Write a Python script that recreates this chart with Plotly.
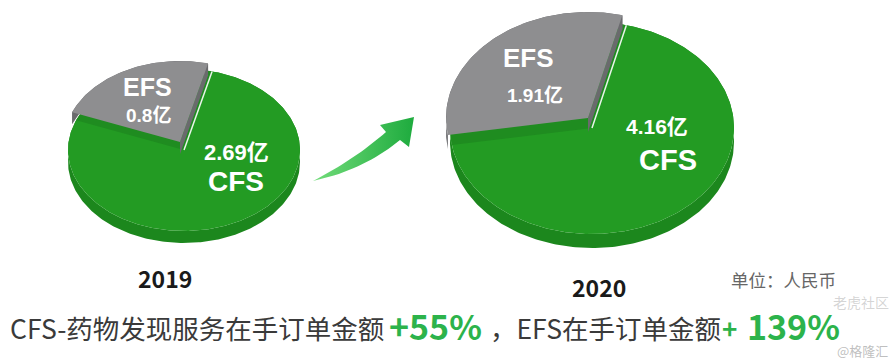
import numpy as np
import plotly.graph_objects as go

# ---------------- data ----------------
years = ["2019", "2020"]
segments = ["EFS", "CFS"]
efs_values = [0.8, 1.91]      # 亿元
cfs_values = [2.69, 4.16]     # 亿元
cfs_growth = "+55%"
efs_growth = "139%"
unit_label = "单位：人民币"
cfs_caption = "CFS-药物发现服务在手订单金额"
efs_caption = "，EFS在手订单金额"

# ---------------- geometry / style ----------------
pies = [
    dict(cx=184, cy=150, rx=116, ry=81, depth=12, ex=(-4, -8), year_xy=(165, 278),
         efs_lab=[(147, 87, 25), (148, 115, 19)], cfs_lab=[(236, 152, 22), (236, 181, 28)]),
    dict(cx=592, cy=128, rx=142, ry=106, depth=14, ex=(-4, -10), year_xy=(599, 287),
         efs_lab=[(528, 58, 26), (535, 95, 19)], cfs_lab=[(657, 126, 21), (668, 160, 29)]),
]
START = 76.0
GREEN_TOP = "#239b23"
GREEN_EDGE = "#1f8c20"
GREEN_SIDE = "#1c871d"
GRAY_TOP = "#8e8e90"
GRAY_SIDE = "#6a6a6d"

fig = go.Figure()


def arc(cx, cy, rx, ry, a0, a1, dx=0, dy=0):
    n = max(int(abs(a1 - a0)) + 2, 3)
    a = np.radians(np.linspace(a0, a1, n))
    return list(cx + dx + rx * np.cos(a)), list(cy + dy - ry * np.sin(a))


def poly(xs, ys, color):
    fig.add_trace(go.Scatter(
        x=xs, y=ys, mode="lines", fill="toself", fillcolor=color,
        line=dict(width=0, color=color), hoverinfo="skip", showlegend=False))


def slice3d(p, a0, a1, top, side, off, faces=()):
    cx, cy, rx, ry, d = p["cx"], p["cy"], p["rx"], p["ry"], p["depth"]
    dx, dy = off
    tx, ty = arc(cx, cy, rx, ry, a0, a1, dx, dy)
    bx, by = arc(cx, cy, rx, ry, a0, a1, dx, dy + d)
    poly(tx + bx[::-1] + [tx[0]], ty + by[::-1] + [ty[0]], side)
    for a in faces:
        ex = cx + dx + rx * np.cos(np.radians(a))
        ey = cy + dy - ry * np.sin(np.radians(a))
        poly([cx + dx, ex, ex, cx + dx, cx + dx],
             [cy + dy, ey, ey + d, cy + dy + d, cy + dy], side)
    poly([cx + dx] + tx + [cx + dx], [cy + dy] + ty + [cy + dy], top)


for i, p in enumerate(pies):
    total = efs_values[i] + cfs_values[i]
    a_efs_end = START + 360.0 * efs_values[i] / total
    # CFS (green) body: the green disc carries the lifted EFS slice
    slice3d(p, 0.0, 360.0, GREEN_TOP, GREEN_SIDE, (0, 0))
    # slightly darker green band under the lifted slice
    cx, cy, rx, ry = p["cx"], p["cy"], p["rx"], p["ry"]
    bx1, by1 = arc(cx, cy, rx, ry, START, a_efs_end)
    poly([cx] + bx1 + [cx], [cy] + by1 + [cy], GREEN_EDGE)
    # white separator on the green edge
    ex = cx + rx * np.cos(np.radians(START))
    ey = cy - ry * np.sin(np.radians(START))
    fig.add_trace(go.Scatter(x=[cx, ex], y=[cy, ey], mode="lines",
                             line=dict(color="rgba(255,255,255,0.9)", width=1.5),
                             hoverinfo="skip", showlegend=False))
    # EFS (gray), lifted/exploded
    slice3d(p, START, a_efs_end, GRAY_TOP, GRAY_SIDE, p["ex"], faces=(START,))

# ---------------- arrow (decoration) ----------------
def bez(p0, c, p2, n=20):
    t = np.linspace(0, 1, n)
    x = (1 - t) ** 2 * p0[0] + 2 * (1 - t) * t * c[0] + t ** 2 * p2[0]
    y = (1 - t) ** 2 * p0[1] + 2 * (1 - t) * t * c[1] + t ** 2 * p2[1]
    return list(x), list(y)

lx, ly = bez((313, 181), (364, 170), (400, 140))
ux, uy = bez((386, 132), (354, 160), (313, 181))
ax = lx + [409, 414, 380] + ux
ay = ly + [147, 117, 125] + uy
fig.add_trace(go.Scatter(
    x=ax, y=ay, mode="lines", fill="toself",
    fillgradient=dict(type="horizontal", colorscale=[[0, "#72dc7a"], [1, "#1eab3e"]]),
    line=dict(width=0, color="#2dbb4a"), hoverinfo="skip", showlegend=False))

# ---------------- texts ----------------
LAB_FONT = "Liberation Sans, Arial, Noto Sans CJK SC"
CJK = "Noto Sans CJK SC, Microsoft YaHei, sans-serif"
ann = []
for i, p in enumerate(pies):
    (x1, y1, s1), (x2, y2, s2) = p["efs_lab"]
    ann.append(dict(x=x1, y=y1, text=f"<b>{segments[0]}</b>", font=dict(size=s1, color="white", family=LAB_FONT)))
    ann.append(dict(x=x2, y=y2, text=f"<b>{efs_values[i]}亿</b>", font=dict(size=s2, color="white", family=LAB_FONT)))
    (x1, y1, s1), (x2, y2, s2) = p["cfs_lab"]
    ann.append(dict(x=x1, y=y1, text=f"<b>{cfs_values[i]}亿</b>", font=dict(size=s1, color="white", family=LAB_FONT)))
    ann.append(dict(x=x2, y=y2, text=f"<b>{segments[1]}</b>", font=dict(size=s2, color="white", family=LAB_FONT)))
    yx, yy = p["year_xy"]
    ann.append(dict(x=yx, y=yy, text=f"<b>{years[i]}</b>", font=dict(size=23, color="#1a1a1a", family=CJK)))

ann.append(dict(x=783, y=279, text=unit_label, font=dict(size=17.5, color="#666666", family=CJK)))
ann.append(dict(x=8, y=327, xanchor="left", text=cfs_caption, font=dict(size=26.5, color="#3a3a3a", family=CJK)))
ann.append(dict(x=387, y=325, xanchor="left", text=f"<b>{cfs_growth}</b>", font=dict(size=34, color="#2cb34b", family=CJK)))
ann.append(dict(x=488, y=327, xanchor="left", text=efs_caption, font=dict(size=26.5, color="#3a3a3a", family=CJK)))
ann.append(dict(x=720, y=327, xanchor="left", text="<b>+</b>", font=dict(size=26, color="#2cb34b", family=CJK)))
ann.append(dict(x=745, y=325, xanchor="left", text=f"<b>{efs_growth}</b>", font=dict(size=34, color="#2cb34b", family=CJK)))
# watermarks
ann.append(dict(x=861, y=302, text="老虎社区", font=dict(size=14, color="rgba(160,160,160,0.45)", family=CJK)))
ann.append(dict(x=862, y=350, text="@格隆汇", font=dict(size=13, color="rgba(170,170,170,0.75)", family=CJK)))

for a in ann:
    a.update(xref="x", yref="y", showarrow=False)
    a.setdefault("xanchor", "center")
    a.setdefault("yanchor", "middle")

fig.update_layout(
    width=890, height=362, margin=dict(l=0, r=0, t=0, b=0),
    paper_bgcolor="white", plot_bgcolor="white",
    xaxis=dict(range=[0, 890], visible=False, fixedrange=True),
    yaxis=dict(range=[362, 0], visible=False, fixedrange=True),
    annotations=ann, showlegend=False,
)
fig.write_html("out.html")
